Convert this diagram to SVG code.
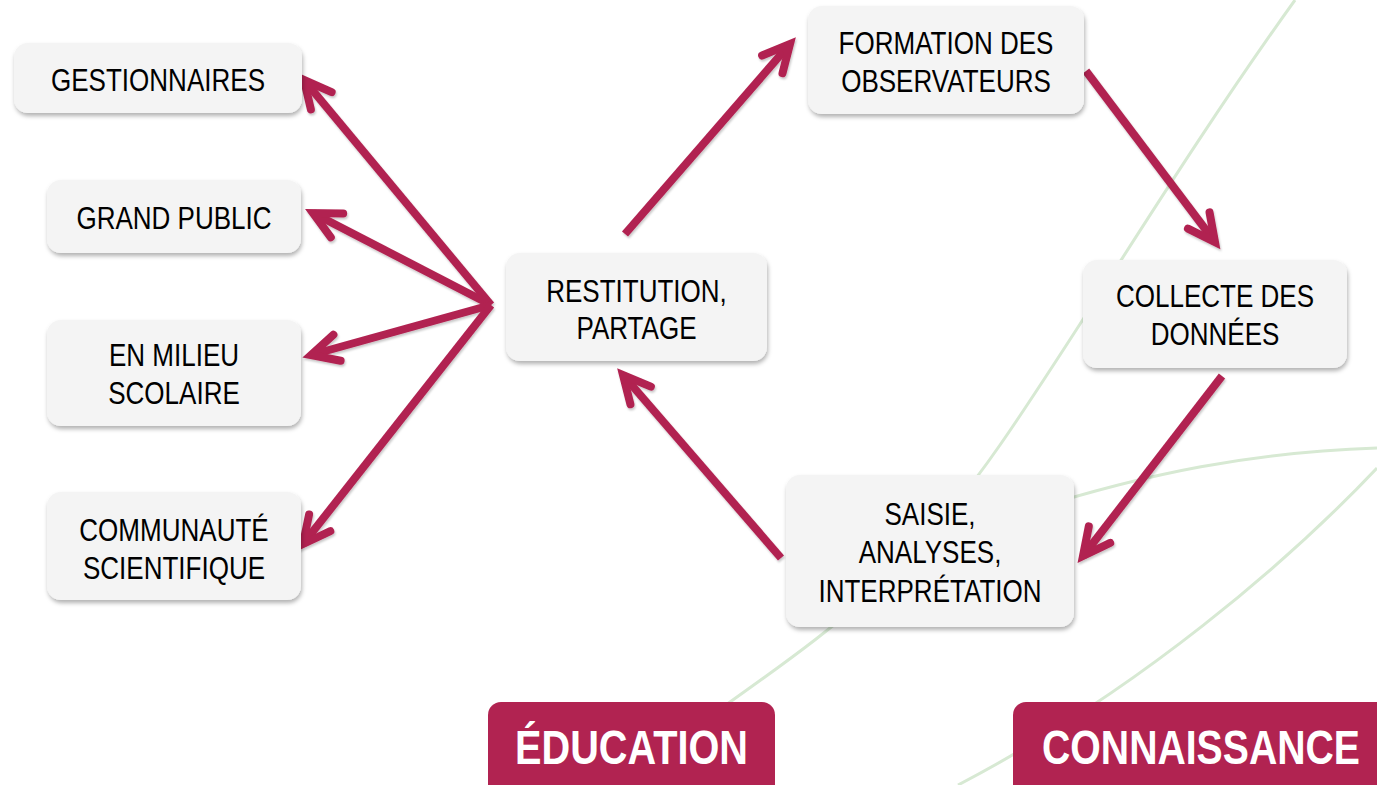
<svg xmlns="http://www.w3.org/2000/svg" width="1377" height="785" viewBox="0 0 1377 785">
  <defs>
    <style>
      .bg-curve { fill: none; stroke: #d7e9d3; stroke-width: 3; }
      .node rect { fill: #f4f4f4; }
      .node text { font-family: "Liberation Sans", Arial, sans-serif; font-size: 31px; fill: #000; text-anchor: middle; }
      .tag rect { fill: #b12351; }
      .tag text { font-family: "Liberation Sans", Arial, sans-serif; font-weight: bold; font-size: 49px; fill: #fff; text-anchor: middle; }
      .edge { fill: none; stroke: #b12351; stroke-width: 8; stroke-linecap: butt; marker-end: url(#chevron); }
    </style>
    <marker id="chevron" markerUnits="userSpaceOnUse" orient="auto" overflow="visible" markerWidth="1" markerHeight="1" refX="0" refY="0">
      <path d="M-27,-13.5 L0,0 L-27,13.5" fill="none" stroke="#b12351" stroke-width="8" stroke-linecap="round" stroke-linejoin="miter"/>
    </marker>
    <filter id="boxShadow" x="-10%" y="-10%" width="125%" height="135%">
      <feDropShadow dx="1" dy="3" stdDeviation="2.2" flood-color="#000" flood-opacity="0.3"/>
    </filter>
    <filter id="lineShadow" x="-10%" y="-10%" width="120%" height="120%">
      <feDropShadow dx="1" dy="2" stdDeviation="1.2" flood-color="#000" flood-opacity="0.22"/>
    </filter>
  </defs>

  <rect width="1377" height="785" fill="#ffffff"/>

  <!-- faint background arcs -->
  <g id="background-arcs">
    <path class="bg-curve" d="M1295,0 C1180,160 1080,330 1000,445 S860,610 730,702 L614,785"/>
    <path class="bg-curve" d="M1377,448 C1260,452 1150,470 1000,520"/>
    <path class="bg-curve" d="M1377,468 C1290,560 1140,690 958,785"/>
  </g>

  <!-- connectors -->
  <g id="connectors" filter="url(#lineShadow)">
    <line class="edge" x1="491" y1="305" x2="304" y2="80"/>
    <line class="edge" x1="491" y1="305" x2="313" y2="213"/>
    <line class="edge" x1="491" y1="305" x2="311" y2="355"/>
    <line class="edge" x1="491" y1="305" x2="303" y2="544"/>
    <line class="edge" x1="625" y1="234" x2="790" y2="44"/>
    <line class="edge" x1="1086" y1="71" x2="1215" y2="242"/>
    <line class="edge" x1="1222" y1="376" x2="1083" y2="556"/>
    <line class="edge" x1="781" y1="558" x2="623" y2="375"/>
  </g>

  <!-- nodes -->
  <g id="gestionnaires" class="node">
    <rect x="14" y="43" width="288" height="70" rx="14" filter="url(#boxShadow)"/>
    <text transform="translate(158 0) scale(0.84 1)" x="0" y="91">GESTIONNAIRES</text>
  </g>
  <g id="grand-public" class="node">
    <rect x="47" y="180" width="254" height="73" rx="14" filter="url(#boxShadow)"/>
    <text transform="translate(174 0) scale(0.84 1)" x="0" y="229">GRAND PUBLIC</text>
  </g>
  <g id="milieu-scolaire" class="node">
    <rect x="47" y="320" width="254" height="106" rx="14" filter="url(#boxShadow)"/>
    <text transform="translate(174 0) scale(0.84 1)" x="0" y="366">EN MILIEU<tspan x="0" dy="38">SCOLAIRE</tspan></text>
  </g>
  <g id="communaute-scientifique" class="node">
    <rect x="47" y="492" width="254" height="108" rx="14" filter="url(#boxShadow)"/>
    <text transform="translate(174 0) scale(0.84 1)" x="0" y="541">COMMUNAUTÉ<tspan x="0" dy="38">SCIENTIFIQUE</tspan></text>
  </g>
  <g id="restitution" class="node">
    <rect x="506" y="253" width="261" height="108" rx="14" filter="url(#boxShadow)"/>
    <text transform="translate(636.5 0) scale(0.84 1)" x="0" y="302">RESTITUTION,<tspan x="0" dy="37">PARTAGE</tspan></text>
  </g>
  <g id="formation" class="node">
    <rect x="808" y="6" width="276" height="108" rx="14" filter="url(#boxShadow)"/>
    <text transform="translate(946 0) scale(0.84 1)" x="0" y="54">FORMATION DES<tspan x="0" dy="38">OBSERVATEURS</tspan></text>
  </g>
  <g id="collecte" class="node">
    <rect x="1083" y="260" width="264" height="108" rx="14" filter="url(#boxShadow)"/>
    <text transform="translate(1215 0) scale(0.84 1)" x="0" y="307">COLLECTE DES<tspan x="0" dy="38">DONNÉES</tspan></text>
  </g>
  <g id="saisie" class="node">
    <rect x="786" y="475" width="288" height="152" rx="14" filter="url(#boxShadow)"/>
    <text transform="translate(930 0) scale(0.84 1)" x="0" y="525">SAISIE,<tspan x="0" dy="38.5">ANALYSES,</tspan><tspan x="0" dy="38.5">INTERPRÉTATION</tspan></text>
  </g>

  <!-- section tags -->
  <g id="tag-education" class="tag">
    <rect x="488" y="702" width="287" height="110" rx="13"/>
    <text transform="translate(631.5 0) scale(0.81 1)" x="0" y="764">ÉDUCATION</text>
  </g>
  <g id="tag-connaissance" class="tag">
    <rect x="1013" y="702" width="390" height="110" rx="13"/>
    <text transform="translate(1201 0) scale(0.80 1)" x="0" y="764">CONNAISSANCE</text>
  </g>
</svg>
